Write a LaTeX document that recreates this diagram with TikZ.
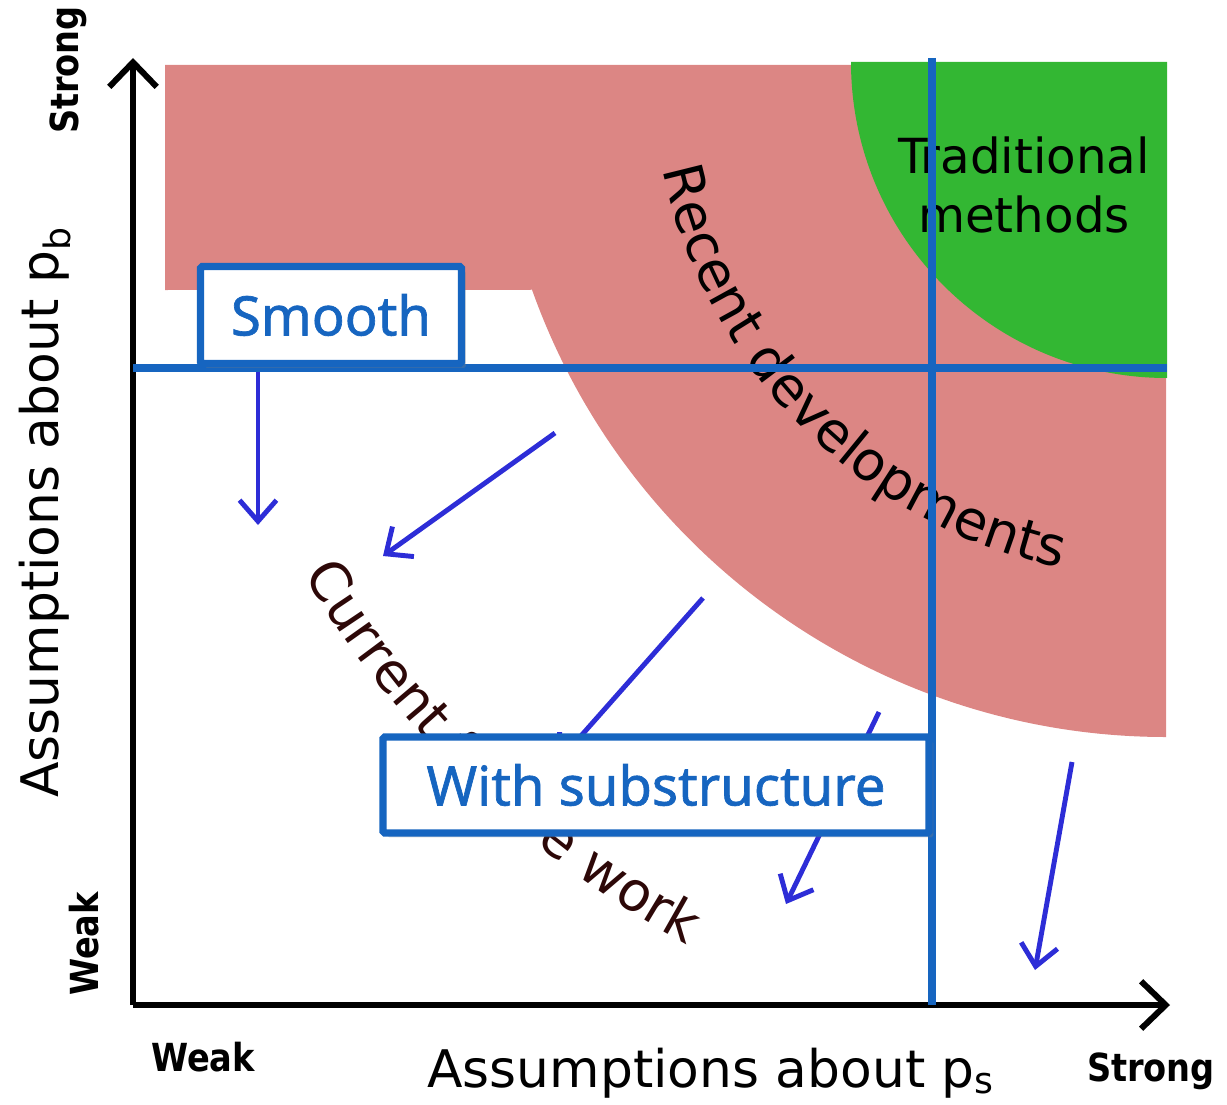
\documentclass[tikz,border=0pt]{standalone}
\usepackage{fontspec}
\setmainfont{DejaVu Sans}
\newfontfamily\boxfont{Noto Sans}[FakeBold=1.2]
\newfontfamily\tickfont{DejaVu Sans}[FakeStretch=0.87]
\usetikzlibrary{arrows.meta,decorations.text,shadows}

\definecolor{regionpink}{RGB}{220,134,132}
\definecolor{regiongreen}{RGB}{51,183,51}
\definecolor{lineblue}{RGB}{22,101,192}
\definecolor{arrowblue}{RGB}{45,45,215}
\definecolor{futurebrown}{RGB}{45,8,8}

\begin{document}
\begin{tikzpicture}[x=0.02cm, y=-0.02cm,
    axis/.style={line width=3.4pt, -{Straight Barb[length=14pt,width=27pt]}},
    cutline/.style={lineblue, line width=4pt},
    shiftarrow/.style={arrowblue, line width=2.8pt, -{Straight Barb[length=12pt,width=21pt]}},
    labelbox/.style={draw=lineblue, line width=4.2pt, fill=white, rounded corners=1pt,
        text=lineblue, font=\boxfont\fontsize{31}{36}\selectfont, inner sep=0pt,
        drop shadow={opacity=0.3, shadow xshift=2.5pt, shadow yshift=-2.5pt}},
    ticklabel/.style={font=\tickfont\bfseries\fontsize{22}{26}\selectfont}]
       \useasboundingbox (0,0) rectangle (1227,1105);

       % regions
       \fill[regionpink] (165,65) -- (1166,65) -- (1166,737) arc[start angle=90, end angle=160.4, radius=673] -- (165,290) -- cycle;
       \fill[regiongreen] (1167,62) -- (851,62) arc[start angle=180, end angle=90, radius=316] -- cycle;

       \path[decorate, decoration={text along path, text align=center,
           text={|\fontsize{31}{36}\selectfont|Recent developments}}]
           (1167,64) ++(171:515) arc[start angle=171, end angle=99, radius=515];
       \node[align=center, font=\fontsize{27.5}{34}\selectfont] (trad) at (1024,185) {Traditional\\methods};

       % axes
       \coordinate (O) at (133,1005);
       \coordinate (ytop) at (133,58);
       \coordinate (xend) at (1170,1005);
       \draw[axis] (O) -- (ytop);
       \draw[axis] (O) -- (xend);

       % cuts
       \coordinate (hl) at (133,368);
       \coordinate (hr) at (1167,368);
       \coordinate (vt) at (932,58);
       \coordinate (vb) at (932,1005);
       \draw[cutline] (hl) -- (hr);
       \draw[cutline] (vt) -- (vb);

       % arrows
       \coordinate (a1) at (258,372);  \coordinate (b1) at (258,525);
       \coordinate (a2) at (555,433);  \coordinate (b2) at (383,556);
       \coordinate (a3) at (703,598);  \coordinate (b3) at (557,763);
       \coordinate (a4) at (879,712);  \coordinate (b4) at (786,904);
       \coordinate (a5) at (1072,762); \coordinate (b5) at (1035,970);
       \foreach \s/\e in {a1/b1,a2/b2,a3/b3,a4/b4,a5/b5}
           \draw[shiftarrow] (\s) -- (\e);

       \path[decorate, decoration={text along path, text align=center,
           text={|\color{futurebrown}\fontsize{31}{36}\selectfont|Current future work}}]
           (1167,64) ++(165:1003) arc[start angle=165, end angle=103, radius=1003];

       % boxes
       \node[labelbox, minimum width=5.22cm, minimum height=1.94cm] (smooth) at (331,315) {Smooth};
       \node[labelbox, minimum width=10.92cm, minimum height=1.92cm] (substr) at (656,785) {With substructure};

       % labels
       \node[font=\fontsize{29.5}{34}\selectfont] (xlab) at (711,1073) {Assumptions about p\textsubscript{s}};
       \node[rotate=90, font=\fontsize{29.5}{34}\selectfont] (ylab) at (45,512) {Assumptions about p\textsubscript{b}};
       \node[ticklabel] (xweak) at (203,1057) {Weak};
       \node[ticklabel] (xstrong) at (1151,1071) {Strong};
       \node[ticklabel, rotate=90] (yweak) at (84,944) {Weak};
       \node[ticklabel, rotate=90] (ystrong) at (68,70) {Strong};
\end{tikzpicture}
\end{document}
